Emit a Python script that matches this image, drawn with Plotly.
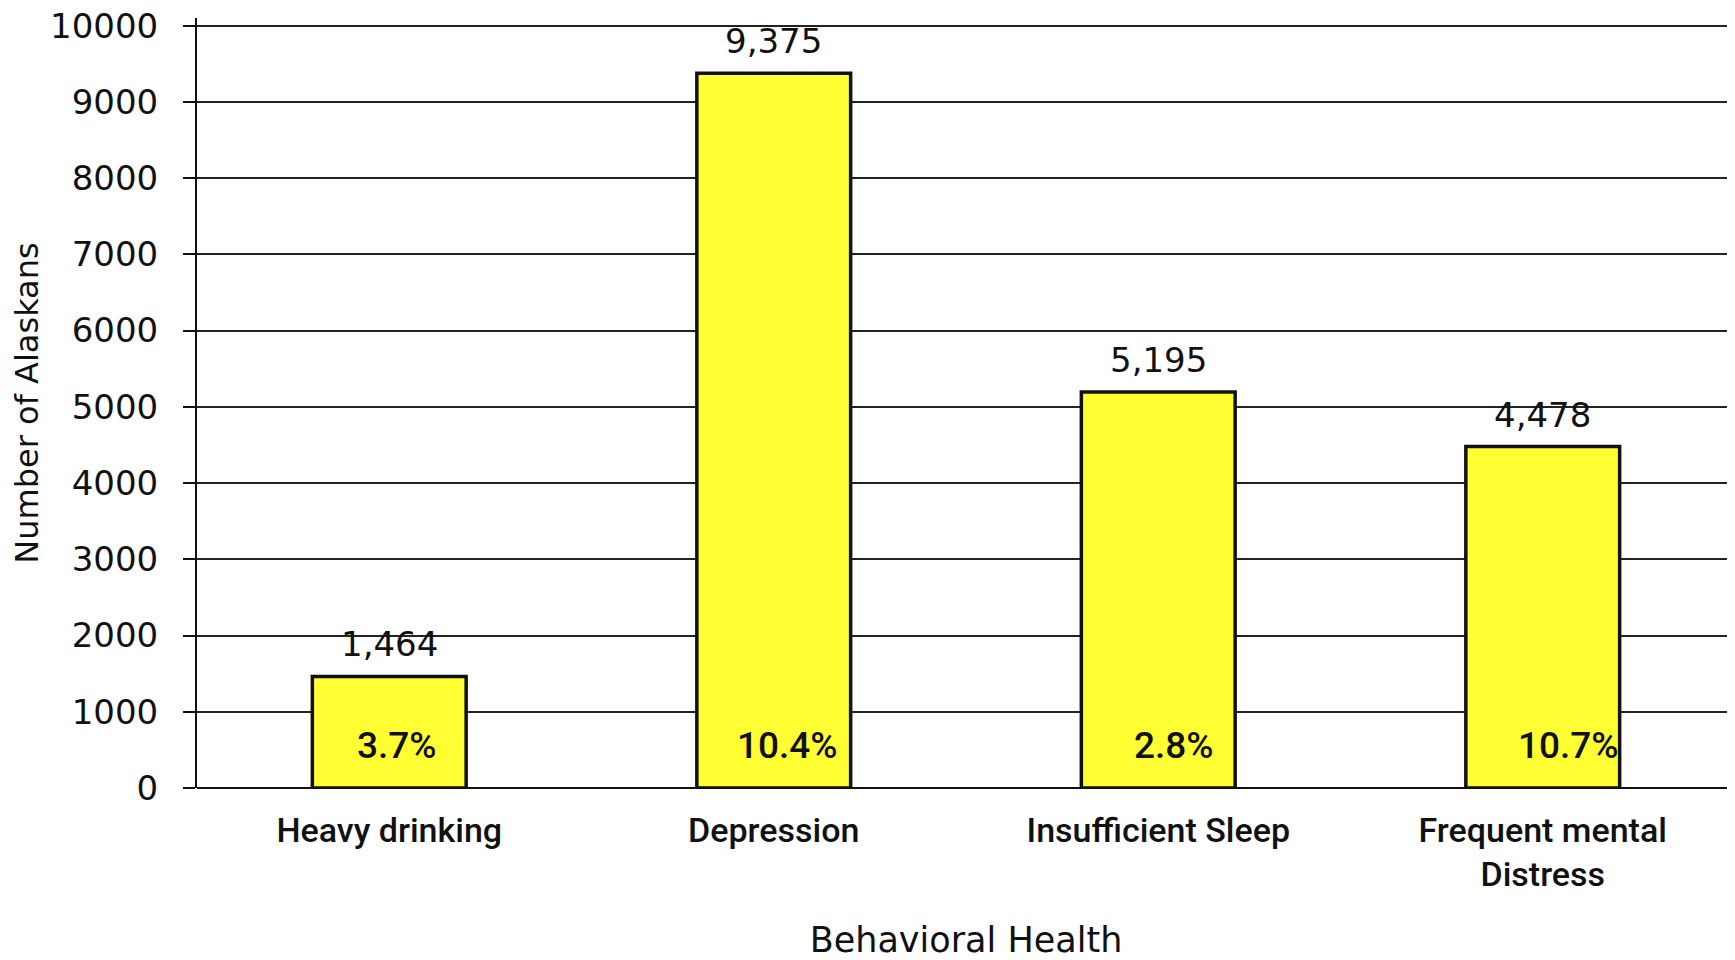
import plotly.graph_objects as go

categories = ["Heavy drinking", "Depression", "Insufficient Sleep", "Frequent mental<br>Distress"]
counts = [1464, 9375, 5195, 4478]
count_labels = ["1,464", "9,375", "5,195", "4,478"]
percent_labels = ["3.7%", "10.4%", "2.8%", "10.7%"]
y_ticks = [0, 1000, 2000, 3000, 4000, 5000, 6000, 7000, 8000, 9000, 10000]

fig = go.Figure()
fig.add_trace(go.Bar(
    x=categories, y=counts, width=0.4,
    marker=dict(color="#FFFF33", line=dict(color="#111111", width=3.5)),
    hoverinfo="skip", showlegend=False,
))

for cat, val, lab in zip(categories, counts, count_labels):
    fig.add_annotation(x=cat, y=val, text=lab, showarrow=False, yanchor="bottom", yshift=10,
                       font=dict(family="DejaVu Sans", size=34, color="#111111"))
for i, (cat, lab) in enumerate(zip(categories, percent_labels)):
    fig.add_annotation(x=cat, y=560, text=lab, showarrow=False, xshift=[8, 14, 16, 26][i],
                       font=dict(family="Roboto", size=37, color="#111111", weight=500))

fig.update_layout(
    width=1727, height=952,
    margin=dict(l=189, r=0, t=10, b=172),
    paper_bgcolor="white", plot_bgcolor="white",
    xaxis=dict(
        range=[-0.5, 3.5], showgrid=False, ticks="", showline=False,
        tickfont=dict(family="Roboto", size=34, color="#111111", weight=500),
        ticklabelstandoff=19,
        title=dict(text="Behavioral Health", font=dict(family="DejaVu Sans", size=35, color="#111111"), standoff=40),
        automargin=False,
    ),
    yaxis=dict(
        range=[0, 10100], tickvals=y_ticks, ticktext=[str(v) for v in y_ticks],
        showgrid=True, gridcolor="#222222", gridwidth=2,
        showline=True, linecolor="#111111", linewidth=2,
        ticks="outside", ticklen=12, tickcolor="#111111", tickwidth=2,
        tickfont=dict(family="DejaVu Sans", size=34, color="#111111"),
        ticklabelstandoff=18, ticklabeloverflow="allow",
        zeroline=True, zerolinecolor="#111111", zerolinewidth=2,
        title=dict(text="Number of Alaskans", font=dict(family="DejaVu Sans", size=32, color="#111111"), standoff=19),
        automargin=False,
    ),
)

fig.write_html("out.html")
